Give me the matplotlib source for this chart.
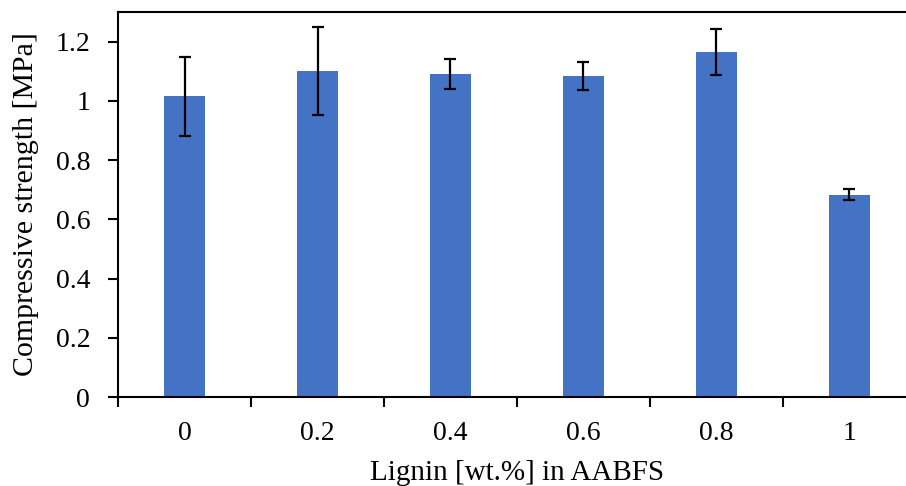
import numpy as np
import matplotlib.pyplot as plt

plt.rcParams['font.family'] = ['Liberation Serif', 'DejaVu Serif']

# Data
lignin = ["0", "0.2", "0.4", "0.6", "0.8", "1"]
strength = [1.015, 1.100, 1.090, 1.085, 1.165, 0.683]
err = [0.134, 0.148, 0.050, 0.047, 0.078, 0.018]

fig = plt.figure(figsize=(9.06, 4.86), dpi=100)
ax = fig.add_axes([118/906, 89/486, 798/906, 385/486])

x = np.arange(len(lignin))
ax.bar(x, strength, width=0.31, color="#4472C4", zorder=2)
ax.errorbar(x, strength, yerr=err, fmt="none", ecolor="black",
            elinewidth=1.6, capsize=4, capthick=1.6, zorder=3)

ax.set_xlim(-0.5, 5.5)
ax.set_ylim(0, 1.3)
ax.set_yticks([0, 0.2, 0.4, 0.6, 0.8, 1.0, 1.2])
ax.set_yticklabels(["0", "0.2", "0.4", "0.6", "0.8", "1", "1.2"])
ax.set_xticks(x)
ax.set_xticklabels(lignin)
ax.set_xticks(np.arange(-0.5, 6.0, 1.0), minor=True)

ax.tick_params(axis="x", which="major", length=0, pad=17, labelsize=20)
ax.tick_params(axis="x", which="minor", length=7, width=1.5, direction="out")
ax.tick_params(axis="y", length=7, width=1.5, pad=13, labelsize=20)

for s in ["left", "top", "bottom"]:
    ax.spines[s].set_linewidth(1.5)
ax.spines["right"].set_visible(False)

ax.set_xlabel("Lignin [wt.%] in AABFS", fontsize=21, labelpad=10)
ax.set_ylabel("Compressive strength [MPa]", fontsize=21.5, labelpad=12)

fig.savefig("out.png", dpi=100)
